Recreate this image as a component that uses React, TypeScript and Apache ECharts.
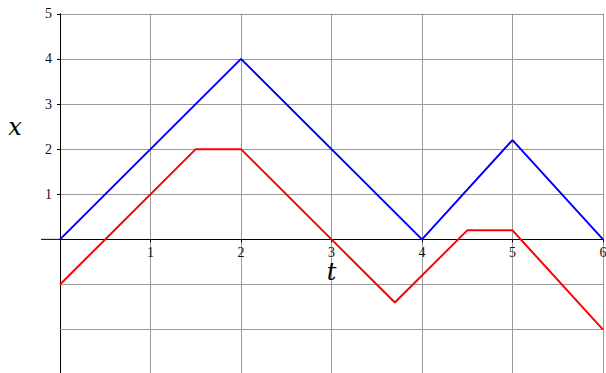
import React, { useEffect, useRef } from "react";
import * as echarts from "echarts";

// Time samples and the two piecewise-linear trajectories x(t)
const blueT = [0, 2, 4, 5, 6];
const blueX = [0, 4, 0, 2.2, 0];
const redT = [0, 1.5, 2, 3, 3.7, 4.5, 5, 6];
const redX = [-1, 2, 2, 0, -1.4, 0.2, 0.2, -2];

const xTicks = [1, 2, 3, 4, 5, 6];
const yTicks = [1, 2, 3, 4, 5];
// Grid levels below the t-axis (no tick marks or labels there)
const yLowerGrid = [-1, -2];

const serif = "Liberation Serif";
const mathItalic = "DejaVu Serif";

export default function App() {
  const ref = useRef<HTMLDivElement>(null);

  useEffect(() => {
    document.body.style.margin = "0";
    const chart = echarts.init(ref.current!, null, { renderer: "svg" });
    const gridColor = "#9a9a9a";
    chart.setOption({
      animation: false,
      grid: { left: 60, right: 3, top: 13.75, height: 361, outerBoundsMode: "none", containLabel: false },
      xAxis: {
        type: "value",
        min: 0,
        max: 6,
        interval: 1,
        axisLine: { onZero: true, lineStyle: { color: "#000", width: 1 } },
        axisTick: { show: true, length: 3, customValues: xTicks, lineStyle: { color: "#000" } },
        axisLabel: { show: false },
        splitLine: { show: true, lineStyle: { color: gridColor, width: 1 } },
      },
      yAxis: {
        type: "value",
        min: -3,
        max: 5,
        interval: 1,
        axisLine: { onZero: false, lineStyle: { color: "#000", width: 1 } },
        axisTick: { show: true, length: 3, customValues: yTicks, lineStyle: { color: "#000" } },
        axisLabel: {
          fontFamily: serif,
          fontSize: 14,
          color: "#111",
          margin: 8,
          formatter: (v: number) => (yTicks.includes(v) ? String(v) : ""),
        },
        splitLine: { show: true, lineStyle: { color: gridColor, width: 1 } },
      },
      series: [
        {
          type: "line",
          data: blueT.map((t, i) => [t, blueX[i]]),
          symbol: "none",
          lineStyle: { color: "#0000ff", width: 2 },
          z: 3,
          markLine: {
            silent: true,
            symbol: "none",
            label: { show: false },
            lineStyle: { color: gridColor, width: 1, type: "solid" },
            z: 1,
            data: yLowerGrid.map((v) => ({ yAxis: v })),
          },
        },
        {
          type: "line",
          data: redT.map((t, i) => [t, redX[i]]),
          symbol: "none",
          lineStyle: { color: "#ff0000", width: 2 },
          z: 4,
        },
      ],
    });

    // Tick labels of the t-axis sit on the line x = 0
    const px = (t: number, x: number) =>
      chart.convertToPixel({ gridIndex: 0 }, [t, x]) as number[];
    const [x0, y0] = px(0, 0);
    const [xl] = px(-0.21, 0);
    const [xMid] = px(3, 0);
    const [, yName] = px(0, 2.5);

    const tickLabels = xTicks.map((t) => {
      const [tx] = px(t, 0);
      return {
        type: "text",
        x: tx,
        y: y0 + 6,
        style: {
          text: String(t),
          fontFamily: serif,
          fontSize: 14,
          fill: "#111",
          align: "center",
          verticalAlign: "top",
        },
        z: 10,
      };
    });

    chart.setOption({
      graphic: [
        {
          type: "line",
          shape: { x1: xl, y1: y0, x2: x0, y2: y0 },
          style: { stroke: "#000", lineWidth: 1 },
          z: 10,
        },
        ...tickLabels,
        {
          type: "text",
          x: xMid,
          y: y0 + 33,
          style: {
            text: "t",
            fontFamily: mathItalic,
            fontStyle: "italic",
            fontSize: 24,
            fill: "#000",
            align: "center",
            verticalAlign: "middle",
          },
          z: 10,
        },
        {
          type: "text",
          x: 15,
          y: yName,
          style: {
            text: "x",
            fontFamily: mathItalic,
            fontStyle: "italic",
            fontSize: 24,
            fill: "#000",
            align: "center",
            verticalAlign: "middle",
          },
          z: 10,
        },
      ],
    });

    return () => chart.dispose();
  }, []);

  return <div ref={ref} style={{ width: 606, height: 380 }} />;
}
